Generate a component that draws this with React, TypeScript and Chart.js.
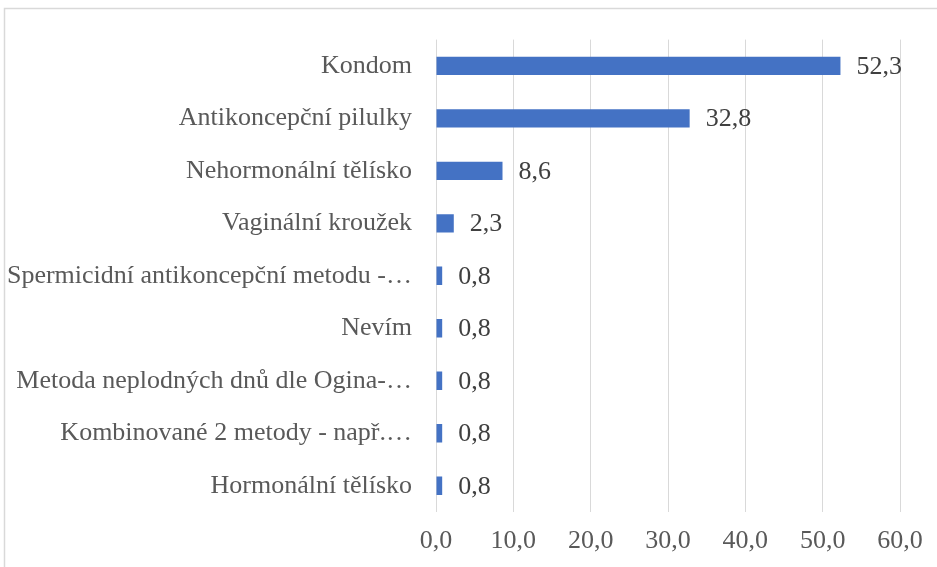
import React, { useEffect, useRef } from "react";
import { Chart, registerables } from "chart.js";

Chart.register(...registerables);

const categories: string[] = [
  "Kondom",
  "Antikoncepční pilulky",
  "Nehormonální tělísko",
  "Vaginální kroužek",
  "Spermicidní antikoncepční metodu -…",
  "Nevím",
  "Metoda neplodných dnů dle Ogina-…",
  "Kombinované 2 metody - např.…",
  "Hormonální tělísko",
];
const values: number[] = [52.3, 32.8, 8.6, 2.3, 0.8, 0.8, 0.8, 0.8, 0.8];
const xTicks: number[] = [0, 10, 20, 30, 40, 50, 60];

const FONT = "'Liberation Serif', 'Times New Roman', serif";
const fmt = (v: number) => v.toFixed(1).replace(".", ",");

const frameAndLabels = {
  id: "frameAndLabels",
  beforeDraw(chart: any) {
    const ctx = chart.ctx;
    ctx.save();
    ctx.fillStyle = "#ffffff";
    ctx.fillRect(0, 0, chart.width, chart.height);
    ctx.strokeStyle = "#d9d9d9";
    ctx.lineWidth = 1.5;
    ctx.strokeRect(4.5, 8.5, chart.width + 20, chart.height + 20);
    ctx.restore();
  },
  afterDatasetsDraw(chart: any) {
    const ctx = chart.ctx;
    const meta = chart.getDatasetMeta(0);
    ctx.save();
    ctx.font = `26px ${FONT}`;
    ctx.fillStyle = "#404040";
    ctx.textAlign = "left";
    ctx.textBaseline = "middle";
    meta.data.forEach((bar: any, i: number) => {
      ctx.fillText(fmt(values[i]), bar.x + 16, bar.y + 1);
    });
    ctx.restore();
  },
};

export default function App() {
  const ref = useRef<HTMLCanvasElement | null>(null);
  useEffect(() => {
    document.body.style.margin = "0";
    const canvas = ref.current!;
    const chart = new Chart(canvas, {
      type: "bar",
      data: {
        labels: categories,
        datasets: [
          {
            data: values,
            backgroundColor: "#4472c4",
            borderWidth: 0,
            barPercentage: 0.35,
            categoryPercentage: 1,
          },
        ],
      },
      options: {
        indexAxis: "y",
        animation: false,
        responsive: false,
        maintainAspectRatio: false,
        layout: { padding: { top: 37, right: 37, left: 0, bottom: 0 } },
        plugins: {
          legend: { display: false },
          tooltip: { enabled: false },
          title: { display: false },
        },
        scales: {
          x: {
            min: 0,
            max: 60,
            afterBuildTicks: (scale: any) => {
              scale.ticks = xTicks.map((v) => ({ value: v }));
            },
            afterFit: (scale: any) => {
              scale.height = 55;
            },
            grid: { color: "#d9d9d9", lineWidth: 1, drawTicks: false },
            border: { display: false },
            ticks: {
              padding: 14,
              color: "#595959",
              font: { family: FONT, size: 26 },
              callback: (v: any) => fmt(Number(v)),
            },
          },
          y: {
            afterFit: (scale: any) => {
              scale.width = 436;
            },
            grid: { display: false, drawTicks: false },
            border: { display: false },
            ticks: {
              padding: 24,
              color: "#595959",
              font: { family: FONT, size: 26 },
              autoSkip: false,
            },
          },
        },
      },
      plugins: [frameAndLabels],
    });
    return () => chart.destroy();
  }, []);
  return (
    <div style={{ width: 937, height: 567, position: "relative" }}>
      <canvas ref={ref} width={937} height={567} style={{ display: "block" }} />
    </div>
  );
}
